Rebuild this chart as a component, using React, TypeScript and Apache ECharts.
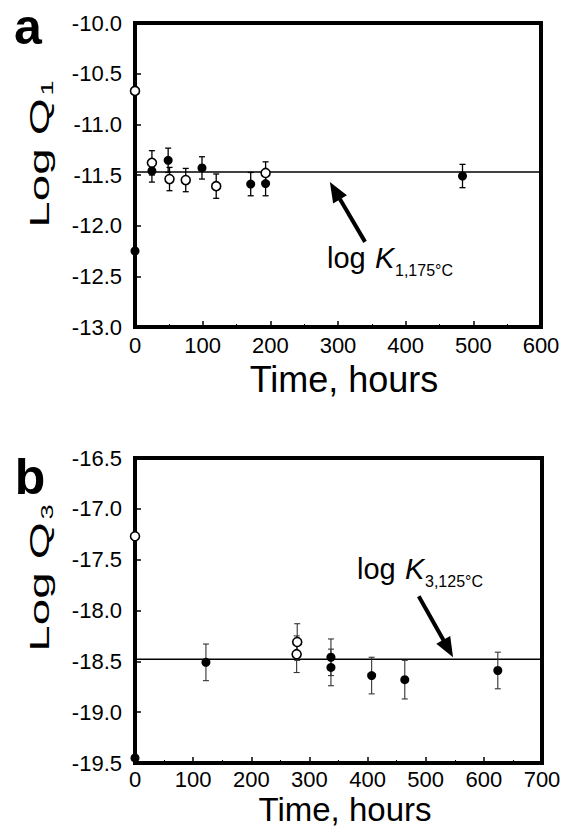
import React, { useEffect, useRef } from 'react';
import * as echarts from 'echarts';

// ---------- Data: panel a (Log Q1 vs time) ----------
const xTicksA = [0, 100, 200, 300, 400, 500, 600];
const yTicksA = [-13.0, -12.5, -12.0, -11.5, -11.0, -10.5, -10.0];
const filledAx = [0, 25, 49, 99, 171, 193, 484];
const filledAy = [-12.25, -11.46, -11.355, -11.43, -11.59, -11.585, -11.51];
const filledAerr = [0, 0.11, 0.12, 0.11, 0.115, 0.12, 0.115];
const openAx = [0, 25, 51, 75, 120, 193];
const openAy = [-10.67, -11.38, -11.54, -11.55, -11.61, -11.48];
const openAerr = [0, 0.12, 0.115, 0.115, 0.12, 0.11];
const refA = -11.47;
const arrowA = [340, -12.16, 288, -11.57]; // tail x, tail y, tip x, tip y

// ---------- Data: panel b (Log Q3 vs time) ----------
const xTicksB = [0, 100, 200, 300, 400, 500, 600, 700];
const yTicksB = [-19.5, -19.0, -18.5, -18.0, -17.5, -17.0, -16.5];
const filledBx = [0, 122, 337, 337, 407, 464, 624];
const filledBy = [-19.45, -18.51, -18.46, -18.56, -18.64, -18.68, -18.59];
const filledBerr = [0, 0.18, 0.18, 0.18, 0.18, 0.19, 0.18];
const openBx = [0, 279, 278];
const openBy = [-17.27, -18.31, -18.43];
const openBerr = [0, 0.18, 0.18];
const refB = -18.48;
const arrowB = [488, -17.86, 547, -18.46];

const FONT = 'Liberation Sans, Arial, sans-serif';

const pts = (xs: number[], ys: number[]) => xs.map((x, i) => [x, ys[i]]);
const errs = (xs: number[], ys: number[], es: number[]) =>
  xs.map((x, i) => (es[i] ? [x, ys[i] - es[i], ys[i] + es[i]] : null)).filter((d) => d !== null) as number[][];

const errRender = (color: string, width: number) => (params: any, api: any) => {
  const x = api.value(0);
  const lo = api.value(1);
  const hi = api.value(2);
  const t = api.coord([x, hi]);
  const b = api.coord([x, lo]);
  const cw = 3;
  const st = { stroke: color, lineWidth: width };
  return {
    type: 'group',
    children: [
      { type: 'line', shape: { x1: t[0], y1: t[1], x2: b[0], y2: b[1] }, style: st },
      { type: 'line', shape: { x1: t[0] - cw, y1: t[1], x2: t[0] + cw, y2: t[1] }, style: st },
      { type: 'line', shape: { x1: b[0] - cw, y1: b[1], x2: b[0] + cw, y2: b[1] }, style: st },
    ],
  };
};

const arrowRender = (params: any, api: any) => {
  const p1 = api.coord([api.value(0), api.value(1)]);
  const p2 = api.coord([api.value(2), api.value(3)]);
  const dx = p2[0] - p1[0];
  const dy = p2[1] - p1[1];
  const len = Math.hypot(dx, dy);
  const ux = dx / len;
  const uy = dy / len;
  const hl = 20;
  const hw = 8;
  const bx = p2[0] - ux * hl;
  const by = p2[1] - uy * hl;
  const nx = -uy;
  const ny = ux;
  return {
    type: 'group',
    children: [
      { type: 'line', shape: { x1: p1[0], y1: p1[1], x2: bx + ux * 2, y2: by + uy * 2 }, style: { stroke: '#000', lineWidth: 4 } },
      {
        type: 'polygon',
        shape: { points: [[p2[0], p2[1]], [bx + nx * hw, by + ny * hw], [bx - nx * hw, by - ny * hw]] },
        style: { fill: '#000' },
      },
    ],
  };
};

const xAxisCfg = (idx: number, ticks: number[], margin: number) => ({
  type: 'value',
  gridIndex: idx,
  min: ticks[0],
  max: ticks[ticks.length - 1],
  interval: ticks[1] - ticks[0],
  axisLine: { show: false, onZero: false },
  axisTick: { show: true, inside: true, length: 6, lineStyle: { color: '#000', width: 1.5 } },
  minorTick: { show: true, splitNumber: 2, length: 3, lineStyle: { color: '#000', width: 1 } },
  splitLine: { show: false },
  axisLabel: { color: '#000', fontSize: 22, fontFamily: FONT, margin, lineHeight: 22 },
});

const yAxisCfg = (idx: number, ticks: number[]) => ({
  type: 'value',
  gridIndex: idx,
  min: ticks[0],
  max: ticks[ticks.length - 1],
  interval: ticks[1] - ticks[0],
  axisLine: { show: false, onZero: false },
  axisTick: { show: true, inside: true, length: 6, lineStyle: { color: '#000', width: 1.5 } },
  splitLine: { show: false },
  axisLabel: {
    color: '#000',
    fontSize: 22,
    fontFamily: FONT,
    margin: 13,
    formatter: (v: number) => v.toFixed(1),
  },
});

const panelSeries = (
  idx: number,
  fx: number[], fy: number[], fe: number[],
  ox: number[], oy: number[], oe: number[],
  ref: number, xMax: number, arrow: number[], errColor: string, errWidth: number,
) => [
  {
    type: 'line',
    xAxisIndex: idx,
    yAxisIndex: idx,
    data: [[0, ref], [xMax, ref]],
    symbol: 'none',
    lineStyle: { color: '#000', width: 1.5 },
    z: 2,
  },
  {
    type: 'custom',
    xAxisIndex: idx,
    yAxisIndex: idx,
    data: [...errs(fx, fy, fe), ...errs(ox, oy, oe)],
    encode: { x: 0, y: [1, 2] },
    renderItem: errRender(errColor, errWidth),
    z: 3,
  },
  {
    type: 'scatter',
    xAxisIndex: idx,
    yAxisIndex: idx,
    data: pts(ox, oy),
    symbol: 'circle',
    symbolSize: 9,
    itemStyle: { color: '#fff', borderColor: '#000', borderWidth: 1.6, opacity: 1 },
    clip: false,
    z: 5,
  },
  {
    type: 'scatter',
    xAxisIndex: idx,
    yAxisIndex: idx,
    data: pts(fx, fy),
    symbol: 'circle',
    symbolSize: 9,
    itemStyle: { color: '#000', opacity: 1 },
    clip: false,
    z: 5,
  },
  {
    type: 'custom',
    xAxisIndex: idx,
    yAxisIndex: idx,
    data: [arrow],
    encode: { x: [0, 2], y: [1, 3] },
    renderItem: arrowRender,
    clip: false,
    z: 6,
  },
];

const txt = (text: string, x: number, y: number, fontSize: number, extra: any = {}, styleExtra: any = {}) => ({
  type: 'text',
  x,
  y,
  ...extra,
  style: {
    text,
    fontSize,
    fontFamily: FONT,
    fill: '#000',
    align: 'left',
    verticalAlign: 'middle',
    lineHeight: Math.round(fontSize * 0.8),
    ...styleExtra,
  },
});

const ROT = { rotation: Math.PI / 2, scaleX: 1.7 };

export default function App() {
  const ref = useRef<HTMLDivElement>(null);
  useEffect(() => {
    if (!ref.current) return;
    const chart = echarts.init(ref.current, undefined, { renderer: 'svg' });
    const option: any = {
      animation: false,
      backgroundColor: '#fff',
      grid: [
        { left: 135, top: 23, width: 406, height: 304, show: true, borderColor: '#000', borderWidth: 4, backgroundColor: 'transparent' },
        { left: 135, top: 458, width: 407, height: 305, show: true, borderColor: '#000', borderWidth: 4, backgroundColor: 'transparent' },
      ],
      xAxis: [xAxisCfg(0, xTicksA, 7), xAxisCfg(1, xTicksB, 5)],
      yAxis: [yAxisCfg(0, yTicksA), yAxisCfg(1, yTicksB)],
      series: [
        ...panelSeries(0, filledAx, filledAy, filledAerr, openAx, openAy, openAerr, refA, xTicksA[xTicksA.length - 1], arrowA, '#000', 1.3),
        ...panelSeries(1, filledBx, filledBy, filledBerr, openBx, openBy, openBerr, refB, xTicksB[xTicksB.length - 1], arrowB, '#333', 1.1),
      ],
      graphic: [
        // panel letters
        txt('a', 28, 27, 50, {}, { fontWeight: 'bold', align: 'center', lineHeight: 30 }),
        txt('b', 30, 477, 50, {}, { fontWeight: 'bold', align: 'center', lineHeight: 38 }),
        // y-axis titles (rotated, stretched like the original)
        txt('Log Q', 39, 163, 28, ROT, { align: 'center' }),
        txt('1', 48, 88, 16, ROT, { align: 'center' }),
        txt('Log Q', 39, 587, 28, ROT, { align: 'center' }),
        txt('3', 48, 512, 16, ROT, { align: 'center' }),
        // x-axis titles
        txt('Time, hours', 344, 379, 36, {}, { align: 'center' }),
        txt('Time, hours', 345, 809, 33, {}, { align: 'center', lineHeight: 26 }),
        // annotations
        txt('log ', 327, 258, 29),
        txt('K', 375, 258, 29, {}, { fontStyle: 'italic' }),
        txt('1,175°C', 395, 270, 16),
        txt('log ', 357, 569, 29),
        txt('K', 405, 569, 29, {}, { fontStyle: 'italic' }),
        txt('3,125°C', 425, 581, 16),
      ],
    };
    chart.setOption(option);
    return () => chart.dispose();
  }, []);
  return <div ref={ref} style={{ position: 'fixed', left: 0, top: 0, width: 567, height: 826, background: '#fff' }} />;
}
